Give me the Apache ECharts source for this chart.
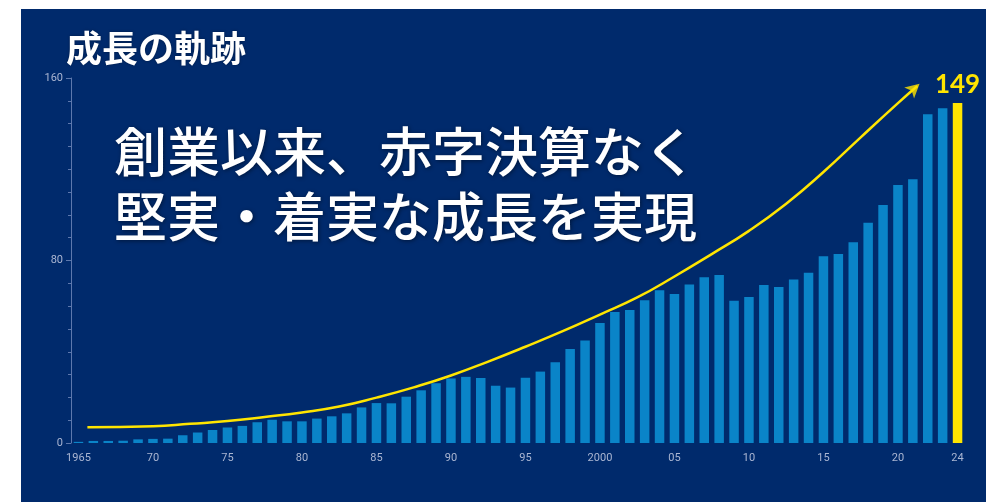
<!DOCTYPE html>
<html>
<head>
<meta charset="utf-8">
<script src="https://cdn.jsdelivr.net/npm/echarts@6/dist/echarts.min.js"></script>
<style>
  html, body { margin: 0; padding: 0; background: #ffffff; }
  #chart { position: absolute; left: 21px; top: 9px; width: 965px; height: 493px; background: #002a6c; }
</style>
</head>
<body>
<div id="chart"></div>
<script>
// years on the category axis
const years = [
  '1965','1966','1967','1968','1969','1970','1971','1972','1973','1974',
  '1975','1976','1977','1978','1979','1980','1981','1982','1983','1984',
  '1985','1986','1987','1988','1989','1990','1991','1992','1993','1994',
  '1995','1996','1997','1998','1999','2000','2001','2002','2003','2004',
  '2005','2006','2007','2008','2009','2010','2011','2012','2013','2014',
  '2015','2016','2017','2018','2019','2020','2021','2022','2023','2024'
];

// bar heights
const values = [
  0.5, 0.9, 0.9, 1.0, 1.6, 1.8, 1.9, 3.4, 4.6, 5.7,
  6.8, 7.5, 9.1, 10.2, 9.5, 9.5, 10.7, 11.7, 13.0, 15.6,
  17.5, 17.4, 20.3, 23.1, 26.2, 28.3, 29.0, 28.5, 25.1, 24.3,
  28.6, 31.3, 35.4, 41.2, 44.9, 52.6, 57.4, 58.3, 62.6, 67.0,
  65.3, 69.5, 72.7, 73.6, 62.4, 64.0, 69.3, 68.4, 71.7, 74.6,
  81.9, 82.8, 88.0, 96.5, 104.3, 113.1, 115.6, 144.1, 146.7, 149
];

// yellow trend curve [year, value]
const trend = [
  [1965.6, 6.9], [1970, 7.3], [1972.5, 8.4], [1975, 9.6], [1977.5, 11.4],
  [1980, 13.4], [1982.5, 16.0], [1985, 19.9], [1987.5, 24.4], [1990, 29.6],
  [1992.5, 35.7], [1995, 42.2], [1997.5, 49.0], [2000, 56.3], [2002.5, 63.8],
  [2005, 73.0], [2007.5, 82.8], [2010, 93.0], [2012.5, 104.9], [2015, 118.8],
  [2017.5, 134.0], [2020, 149], [2021.3, 156.5]
];
const arrowHead = [[2021.45, 157.5]];

const yTicks = [0, 80, 160];
const title = '成長の軌跡';
const message = '創業以来、赤字決算なく\n堅実・着実な成長を実現';

const blue = '#0a84c8';
const yellow = '#ffe500';
const axisColor = '#5d78ad';
const labelColor = '#aab6d2';

const chart = echarts.init(document.getElementById('chart'));

const shortYear = (y) => (y === '1965' || y === '2000') ? y : y.slice(2);

chart.setOption({
  backgroundColor: '#002a6c',
  animation: false,
  title: [
    {
      text: title, left: 40, top: 16,
      textStyle: { color: '#ffffff', fontSize: 36, fontWeight: 'bold',
        fontFamily: 'Noto Sans CJK JP', textShadowColor: 'rgba(0,0,0,0.35)', textShadowBlur: 3 }
    },
    {
      text: message, left: 88, top: 105,
      textStyle: { color: '#ffffff', fontSize: 53, fontWeight: 500, lineHeight: 65,
        fontFamily: 'Noto Sans CJK JP', textShadowColor: 'rgba(0,0,0,0.45)', textShadowBlur: 4,
        textShadowOffsetX: 1, textShadowOffsetY: 1 }
    }
  ],
  grid: { left: 50, right: 21, top: 69, bottom: 59 },
  xAxis: [
    {
      type: 'category',
      data: years,
      axisLine: { show: false },
      axisTick: { show: false },
      axisLabel: {
        color: labelColor, fontSize: 11, fontFamily: 'Roboto', margin: 10,
        interval: (i, y) => (Number(y) - 1965) % 5 === 0 || y === '2024',
        formatter: shortYear
      }
    },
    {
      type: 'value', min: 1964.5, max: 2024.5, show: false
    }
  ],
  yAxis: {
    type: 'value', min: 0, max: 160, interval: 80,
    axisLine: { show: true, lineStyle: { color: axisColor, width: 1 } },
    axisTick: { show: true, length: 5, lineStyle: { color: axisColor } },
    minorTick: { show: true, splitNumber: 8, length: 3, lineStyle: { color: axisColor } },
    splitLine: { show: false },
    axisLabel: {
      color: labelColor, fontSize: 11, fontFamily: 'Roboto', margin: 8,
      formatter: (v) => yTicks.includes(v) ? String(v) : ''
    }
  },
  series: [
    {
      type: 'bar',
      barWidth: 9.5,
      data: values.map((v, i) => i === values.length - 1
        ? { value: v, itemStyle: { color: yellow },
            label: { show: true, position: 'top', distance: 5, color: yellow,
              fontSize: 26, fontWeight: 'bold', fontFamily: 'Lato' } }
        : v),
      itemStyle: { color: blue },
      z: 2
    },
    {
      type: 'line',
      xAxisIndex: 1,
      data: trend,
      smooth: true,
      showSymbol: false,
      lineStyle: { color: yellow, width: 2.5 },
      z: 3
    },
    {
      type: 'scatter',
      xAxisIndex: 1,
      data: arrowHead,
      symbol: 'arrow',
      symbolSize: [11, 14],
      symbolRotate: -48,
      itemStyle: { color: yellow },
      z: 4
    }
  ]
});
</script>
</body>
</html>
